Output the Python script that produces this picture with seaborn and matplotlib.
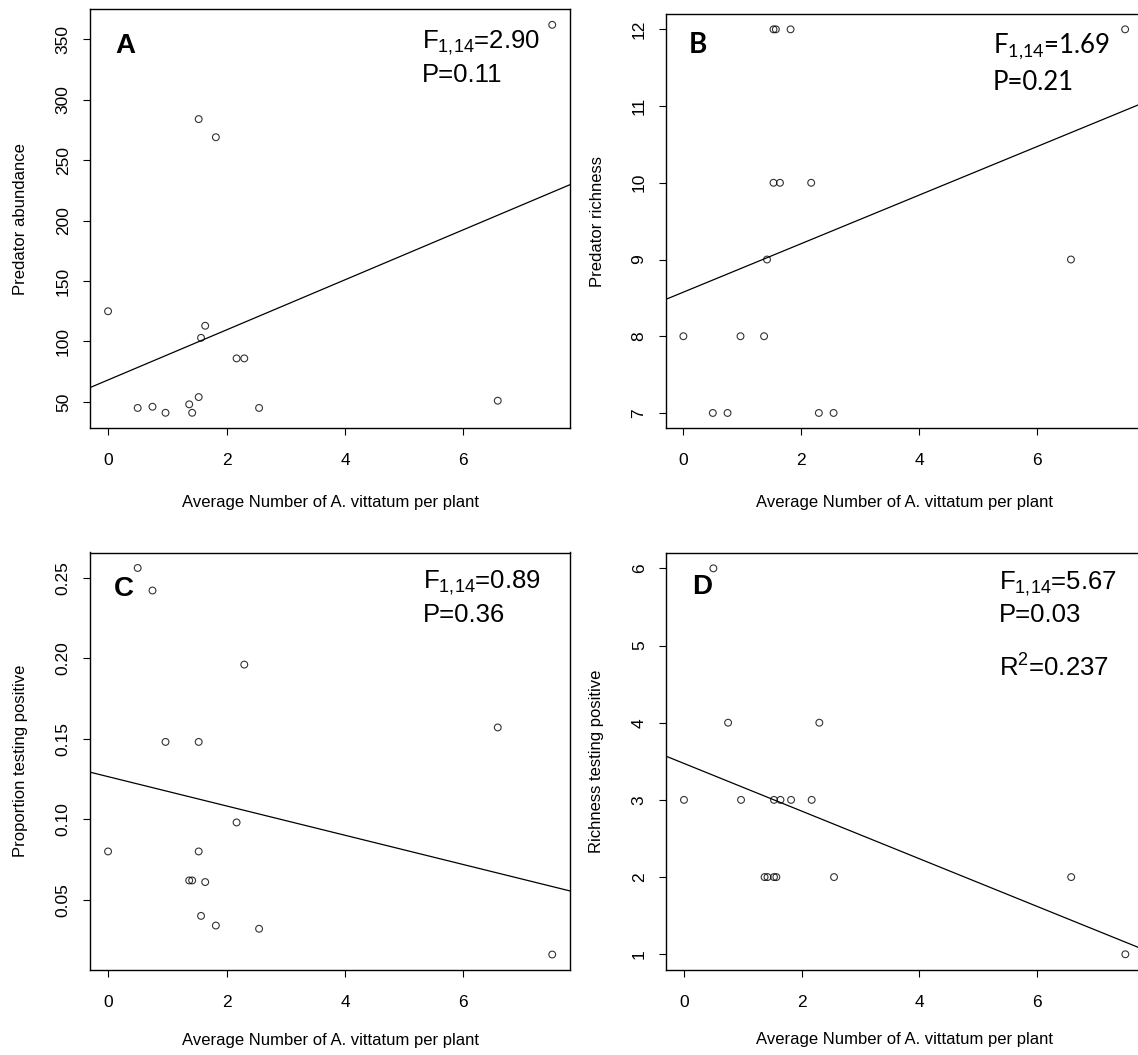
import numpy as np
import pandas as pd
import matplotlib
matplotlib.use("Agg")
import matplotlib.pyplot as plt
import seaborn as sns

# ---- data ----
x_avg = [0.00, 0.50, 0.75, 0.97, 1.37, 1.42, 1.53, 1.53, 1.57, 1.64, 1.82, 2.17, 2.30, 2.55, 6.58, 7.50]
pred_abundance = [125, 45, 46, 41, 48, 41, 284, 54, 103, 113, 269, 86, 86, 45, 51, 362]
pred_richness = [8, 7, 7, 8, 8, 9, 12, 10, 12, 10, 12, 10, 7, 7, 9, 12]
prop_positive = [0.080, 0.256, 0.242, 0.148, 0.062, 0.062, 0.148, 0.080, 0.040, 0.061,
                 0.034, 0.098, 0.196, 0.032, 0.157, 0.016]
rich_positive = [3, 6, 4, 3, 2, 2, 3, 2, 2, 3, 3, 3, 4, 2, 2, 1]

panel_letters = ["A", "B", "C", "D"]
y_labels = ["Predator abundance", "Predator richness",
            "Proportion testing positive", "Richness testing positive"]
x_label = "Average Number of A. vittatum per plant"
f_stats = ["2.90", "1.69", "0.89", "5.67"]
p_vals = ["0.11", "0.21", "0.36", "0.03"]
r2_text = "0.237"
x_ticks = [0, 2, 4, 6]
y_ticks = [[50, 100, 150, 200, 250, 300, 350], [7, 8, 9, 10, 11, 12],
           [0.05, 0.10, 0.15, 0.20, 0.25], [1, 2, 3, 4, 5, 6]]
y_fmt = ["{:.0f}", "{:.0f}", "{:.2f}", "{:.0f}"]

sns.set_theme(style="white")
plt.rcParams['font.family'] = ['Liberation Sans', 'DejaVu Sans']
plt.rcParams['mathtext.default'] = 'regular'

W, H = 1138, 1055
fig = plt.figure(figsize=(W / 100, H / 100), dpi=100)

# axes boxes in pixels: left, top, right, bottom
boxes = [(90.3, 9.3, 570.0, 428.3),
         (665.7, 14.0, 1142.8, 428.3),
         (90.3, 552.5, 570.0, 970.0),
         (666.3, 552.9, 1143.0, 969.7)]

letter_pos = [(0.0515, 0.8957), (0.0488, 0.9059), (0.050, 0.8958), (0.0533, 0.9014)]
stat_x = [0.692, 0.6854, 0.694, 0.6986]
stat_y = [(0.9076, 0.8272), (0.9059, 0.8166), (0.9142, 0.8343), (0.9127, 0.835)]
stat_fonts = [['Liberation Sans'], ['Lato', 'Liberation Sans'], ['Liberation Sans'], ['Liberation Sans']]

series = [pred_abundance, pred_richness, prop_positive, rich_positive]

def padded(v):
    lo, hi = min(v), max(v)
    d = 0.04 * (hi - lo)
    return lo - d, hi + d

for i in range(4):
    l, t, r, b = boxes[i]
    ax = fig.add_axes([l / W, 1 - b / H, (r - l) / W, (b - t) / H])
    df = pd.DataFrame({"x": x_avg, "y": series[i]})
    ax.set_xlim(*padded(x_avg))
    sns.regplot(data=df, x="x", y="y", ax=ax, ci=None, truncate=False, marker="o",
                scatter_kws=dict(facecolors="none", edgecolors="black", s=24, linewidths=0.8),
                line_kws=dict(color="black", lw=0.9))
    ax.set_ylim(*padded(series[i]))
    ax.set_xticks(x_ticks)
    ax.set_xticklabels([str(v) for v in x_ticks])
    ax.set_yticks(y_ticks[i])
    ax.set_yticklabels([y_fmt[i].format(v) for v in y_ticks[i]], rotation=90, va="center")
    ax.tick_params(axis="both", direction="out", length=5, width=0.8, color="black",
                   labelsize=12.5, labelcolor="black", left=True, bottom=True)
    ax.tick_params(axis="x", pad=13)
    ax.tick_params(axis="y", pad=9)
    for s in ax.spines.values():
        s.set_color("black")
        s.set_linewidth(1.0)
        s.set_visible(True)
    ax.set_xlabel(x_label, fontsize=12, color="black")
    ax.set_ylabel(y_labels[i], fontsize=12, color="black")
    ax.xaxis.label.set_va("center")
    ax.yaxis.label.set_va("center")
    ax.xaxis.set_label_coords(0.5, -(503 - 428.3) / (b - t) if i < 2 else -(1040 - 970) / (b - t))
    ax.yaxis.set_label_coords(-(l - (21 if i % 2 == 0 else 597)) / (r - l), 0.5)

    lx, ly = letter_pos[i]
    ax.text(lx, ly, panel_letters[i], transform=ax.transAxes, fontsize=20,
            fontweight="bold", va="baseline", ha="left", family=stat_fonts[i], color="black")
    sx = stat_x[i]
    fy, py = stat_y[i]
    ax.text(sx, fy, r"F$_{1{,}14}$=" + f_stats[i], transform=ax.transAxes, fontsize=18.5,
            va="baseline", ha="left", family=stat_fonts[i], color="black")
    ax.text(sx, py, "P=" + p_vals[i], transform=ax.transAxes, fontsize=18.5,
            va="baseline", ha="left", family=stat_fonts[i], color="black")
    if i == 3:
        ax.text(sx, 0.703, r"R$^{2}$=" + r2_text, transform=ax.transAxes, fontsize=18.5,
                va="baseline", ha="left", family=stat_fonts[i], color="black")

fig.savefig("out.png", dpi=100, facecolor="white")
